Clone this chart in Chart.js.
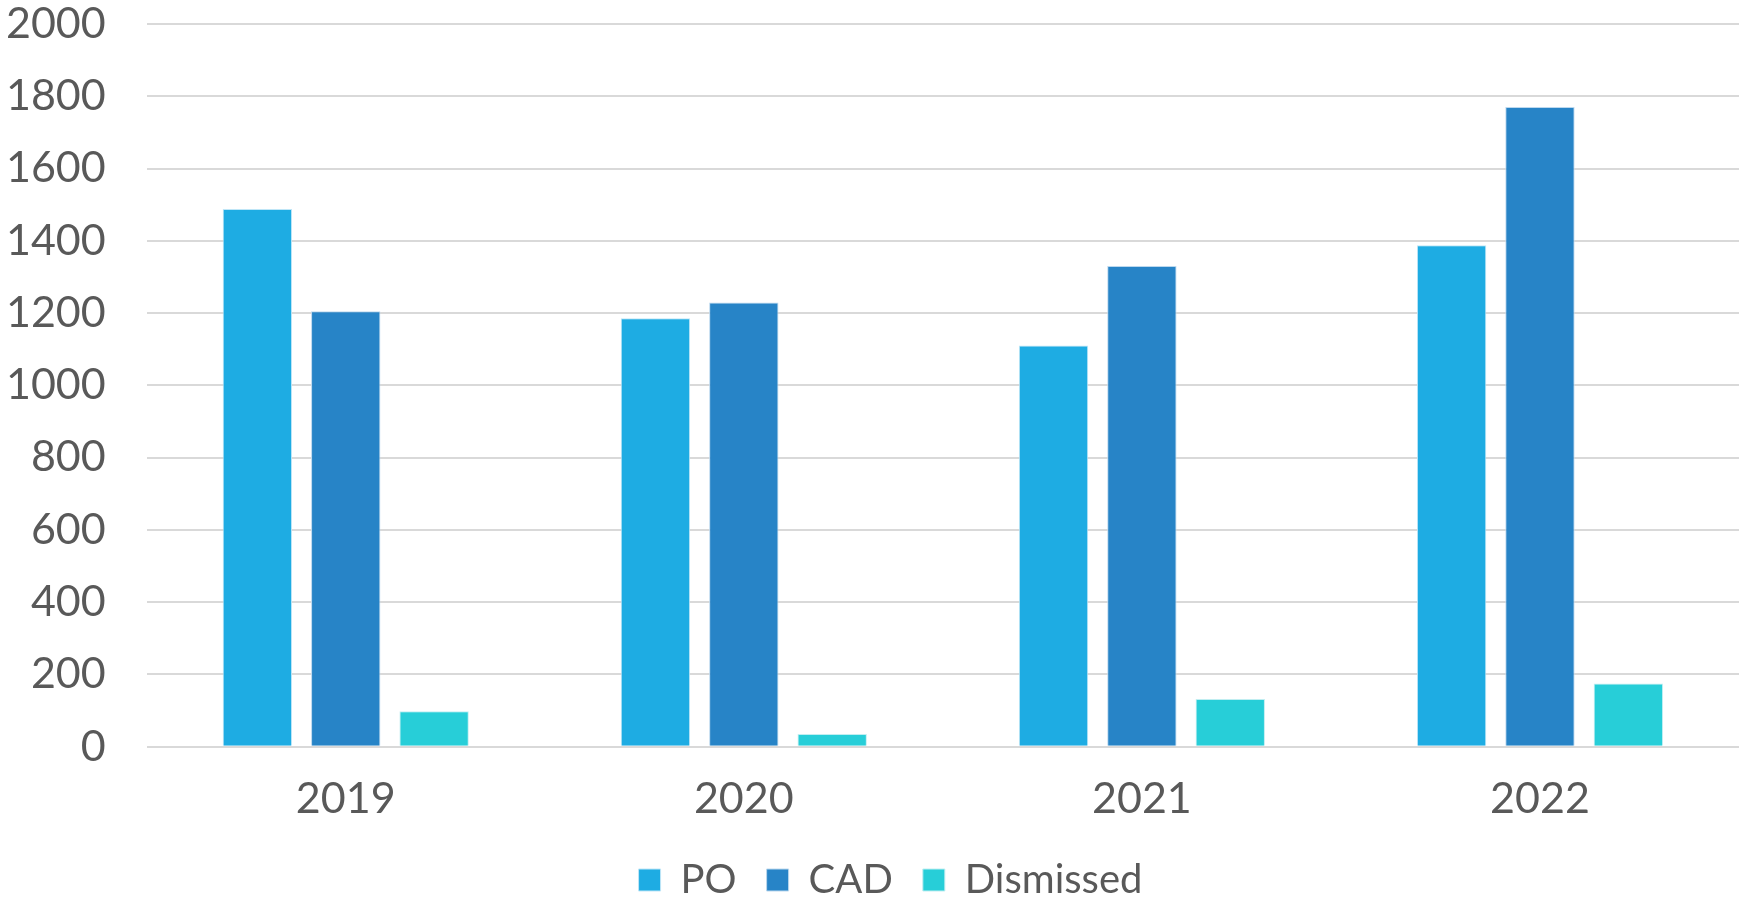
<!DOCTYPE html>
<html>
<head>
<meta charset="utf-8">
<script src="https://cdn.jsdelivr.net/npm/chart.js@4/dist/chart.umd.min.js"></script>
<style>
  html, body { margin: 0; padding: 0; background: #ffffff; overflow: hidden; }
  #wrap { width: 1741px; height: 898px; position: relative; }
</style>
</head>
<body>
<div id="wrap"><canvas id="c"></canvas></div>
<script>
const categories = ["2019", "2020", "2021", "2022"];
const poValues = [1488, 1186, 1110, 1388];
const cadValues = [1205, 1229, 1330, 1770];
const dismissedValues = [98, 35, 132, 175];
const yTicks = [0, 200, 400, 600, 800, 1000, 1200, 1400, 1600, 1800, 2000];

const textColor = "#595959";
const fontFamily = "Lato, 'Open Sans', sans-serif";

const legendShift = {
  id: "legendShift",
  afterLayout(chart) {
    if (chart.legend) {
      chart.legend.left += 21;
      chart.legend.right += 21;
    }
  }
};

new Chart(document.getElementById("c"), {
  type: "bar",
  data: {
    labels: categories,
    datasets: [
      { label: "PO", data: poValues, backgroundColor: "#1EACE3", borderColor: "#bfe6f7", borderWidth: 1 },
      { label: "CAD", data: cadValues, backgroundColor: "#2784C7", borderColor: "#bcd8ee", borderWidth: 1 },
      { label: "Dismissed", data: dismissedValues, backgroundColor: "#27CED8", borderColor: "#c0eef1", borderWidth: 1 }
    ]
  },
  plugins: [legendShift],
  options: {
    responsive: true,
    maintainAspectRatio: false,
    devicePixelRatio: 1,
    animation: false,
    datasets: { bar: { categoryPercentage: 0.666, barPercentage: 0.785 } },
    layout: { padding: { top: 24, left: 0, right: 2, bottom: -12 } },
    scales: {
      y: {
        min: 0,
        max: 2000,
        afterBuildTicks: (s) => { s.ticks = yTicks.map(v => ({ value: v })); },
        afterFit: (s) => { s.width = 146.7; s.paddingTop = 0; s.paddingBottom = 0; },
        ticks: { color: textColor, font: { family: fontFamily, size: 43 }, padding: 41, callback: (v) => String(v) },
        grid: { color: "#d9d9d9", lineWidth: 2, drawTicks: false },
        border: { display: false }
      },
      x: {
        afterFit: (s) => { s.height = 83.3; s.paddingLeft = 0; s.paddingRight = 0; },
        ticks: { color: textColor, font: { family: fontFamily, size: 43 }, padding: 27 },
        grid: { display: false, drawTicks: false },
        border: { display: false }
      }
    },
    plugins: {
      legend: {
        position: "bottom",
        labels: {
          boxWidth: 22,
          boxHeight: 22,
          color: textColor,
          font: { family: fontFamily, size: 40 },
          padding: 30
        }
      },
      tooltip: { enabled: false }
    }
  }
});
</script>
</body>
</html>
